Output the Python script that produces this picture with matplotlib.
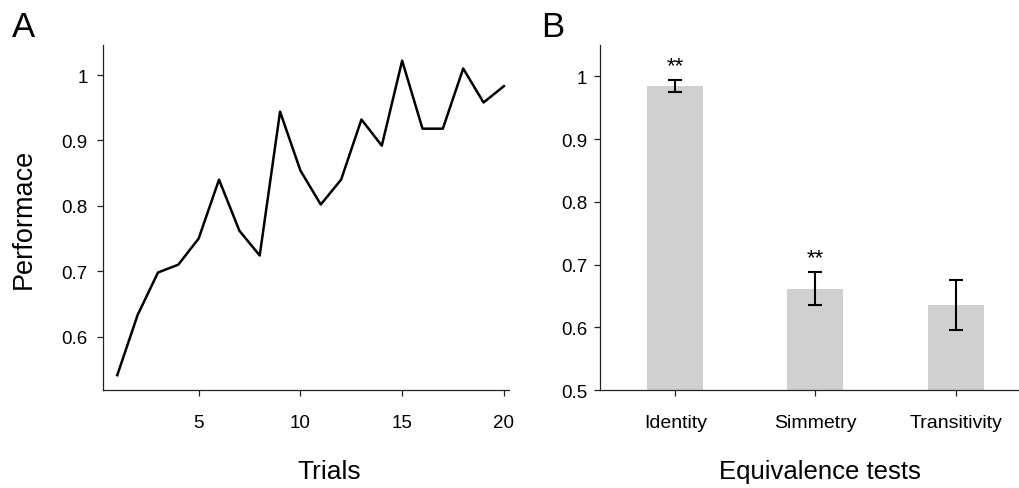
import matplotlib.pyplot as plt
import numpy as np

plt.rcParams['font.family'] = ['Liberation Sans', 'DejaVu Sans']

# panel A
trials = np.arange(1, 21)
performance = [0.541, 0.633, 0.698, 0.710, 0.750, 0.840, 0.762, 0.724, 0.944, 0.854,
               0.802, 0.840, 0.932, 0.892, 1.022, 0.918, 0.918, 1.010, 0.958, 0.983]

# panel B
tests = ['Identity', 'Simmetry', 'Transitivity']
means = [0.985, 0.662, 0.636]
errors = [0.0095, 0.027, 0.040]
stars = ['**', '**', '']

fig = plt.figure(figsize=(10.2, 4.89), dpi=100)
ax1 = fig.add_axes([0.101, 0.200, 0.398, 0.706])
ax2 = fig.add_axes([0.588, 0.200, 0.412, 0.706])

spine_col = '#222222'
for ax in (ax1, ax2):
    for s in ('top', 'right'):
        ax.spines[s].set_visible(False)
    for s in ('left', 'bottom'):
        ax.spines[s].set_linewidth(0.9)
        ax.spines[s].set_color(spine_col)
    ax.tick_params(direction='out', length=4, width=0.9, color=spine_col, labelsize=13.5)

ax1.plot(trials, performance, color='black', lw=1.8)
ax1.set_xlim(0.3, 20.25)
ax1.set_ylim(0.518, 1.046)
ax1.set_xticks([5, 10, 15, 20])
ax1.set_yticks([0.6, 0.7, 0.8, 0.9, 1.0])
ax1.set_yticklabels(['0.6', '0.7', '0.8', '0.9', '1'])
ax1.tick_params(axis='x', pad=13)
ax1.tick_params(axis='y', pad=7)
ax1.set_xlabel('Trials', fontsize=19, labelpad=20)
ax1.xaxis.label.set_x(0.558)
ax1.set_ylabel('Performace', fontsize=19.5, labelpad=18)

x = np.arange(len(tests))
ax2.bar(x, means, width=0.4, color='#d0d0d0', zorder=1)
ax2.errorbar(x, means, yerr=errors, fmt='none', ecolor='black', elinewidth=1.5,
             capsize=4.7, capthick=1.5, zorder=2)
for xi, m, e, st in zip(x, means, errors, stars):
    if st:
        ax2.text(xi, m + e + 0.005, st, ha='center', va='bottom', fontsize=16)
ax2.set_xlim(-0.54, 2.46)
ax2.set_ylim(0.5, 1.05)
ax2.set_xticks(x)
ax2.set_xticklabels(tests, fontsize=14)
ax2.set_yticks([0.5, 0.6, 0.7, 0.8, 0.9, 1.0])
ax2.set_yticklabels(['0.5', '0.6', '0.7', '0.8', '0.9', '1'])
ax2.tick_params(axis='x', pad=13)
ax2.tick_params(axis='y', pad=5)
ax2.set_xlabel('Equivalence tests', fontsize=18.5, labelpad=20)
ax2.xaxis.label.set_x(0.524)

fig.text(0.012, 0.925, 'A', fontsize=25)
fig.text(0.531, 0.925, 'B', fontsize=25)

fig.savefig('out.png', dpi=100)
